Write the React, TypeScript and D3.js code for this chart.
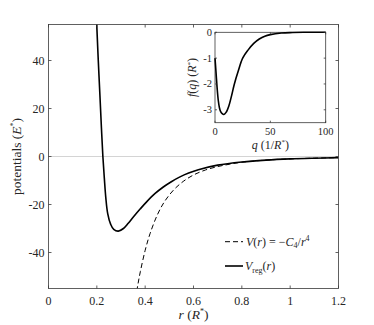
import React from 'react';
import * as d3 from 'd3';

// main panel: regularised potential and the bare -C4/r^4 tail
const rReg = [0.196, 0.2, 0.206, 0.213, 0.219, 0.225, 0.231, 0.237, 0.245, 0.257, 0.27, 0.289, 0.31, 0.33, 0.351, 0.38, 0.406, 0.44, 0.475, 0.51, 0.544, 0.58, 0.62, 0.7, 0.8, 0.9, 1.0, 1.1, 1.2];
const vReg = [65, 54, 40, 25, 12, 0, -9, -17, -23.8, -28.2, -30.4, -31.1, -30.0, -27.8, -25.2, -21.8, -18.9, -15.5, -12.7, -10.4, -8.5, -6.9, -5.5, -3.6, -2.3, -1.5, -1.0, -0.7, -0.48];
const rC4 = [0.36, 0.37, 0.38, 0.4, 0.42, 0.45, 0.48, 0.52, 0.56, 0.6, 0.65, 0.7, 0.75, 0.8, 0.9, 1.0, 1.1, 1.2];
const vC4 = [-59.5, -53.3, -48.0, -39.1, -32.2, -24.4, -18.8, -13.7, -10.2, -7.7, -5.6, -4.2, -3.2, -2.4, -1.5, -1.0, -0.68, -0.48];

// inset: f(q)
const qVals = [0, 1, 2, 3, 4, 5, 6.5, 8, 10, 12.5, 15, 17.5, 21, 25, 30, 35, 40, 45, 50, 60, 70, 80, 100];
const fVals = [-1.0, -1.6, -2.2, -2.65, -2.92, -3.06, -3.15, -3.18, -3.1, -2.85, -2.45, -2.0, -1.5, -1.0, -0.68, -0.43, -0.26, -0.15, -0.09, -0.03, -0.01, 0, 0];

const rTicks = [0, 0.2, 0.4, 0.6, 0.8, 1, 1.2];
const vTicks = [-40, -20, 0, 20, 40];
const qTicks = [0, 50, 100];
const fTicks = [-3, -2, -1, 0];

const axisCol = '#3a3a3a';
const txtCol = '#262626';
const serif = "'Liberation Serif', 'DejaVu Serif', serif";

function App() {
  const m = { left: 48.5, right: 338.5, top: 24.5, bottom: 288.5 };
  const x = d3.scaleLinear().domain([0, 1.2]).range([m.left, m.right]);
  const y = d3.scaleLinear().domain([-55, 55]).range([m.bottom, m.top]);

  const ins = { left: 215, right: 325.7, top: 32.3, bottom: 122.7 };
  const xq = d3.scaleLinear().domain([0, 100]).range([ins.left, ins.right]);
  const yf = d3.scaleLinear().domain([-3.5, 0]).range([ins.bottom, ins.top]);

  const line = d3.line<[number, number]>()
    .x(d => x(d[0]))
    .y(d => y(d[1]))
    .curve(d3.curveCatmullRom.alpha(0.5));
  const insLine = d3.line<[number, number]>()
    .x(d => xq(d[0]))
    .y(d => yf(d[1]))
    .curve(d3.curveCatmullRom.alpha(0.5));

  const regPts = rReg.map((r, i) => [r, vReg[i]] as [number, number]);
  const c4Pts = rC4.map((r, i) => [r, vC4[i]] as [number, number]);
  const fPts = qVals.map((q, i) => [q, fVals[i]] as [number, number]);

  const tk = 3;
  const tki = 2;

  return (
    <svg width={374} height={325} style={{ position: 'absolute', left: 0, top: 0, background: '#fff', fontFamily: serif }}>
      <defs>
        <clipPath id="mainclip">
          <rect x={m.left} y={m.top} width={m.right - m.left} height={m.bottom - m.top} />
        </clipPath>
      </defs>

      {/* zero line */}
      <line x1={m.left} x2={m.right} y1={y(0)} y2={y(0)} stroke="#d4d4d4" strokeWidth={1} />

      <g clipPath="url(#mainclip)" fill="none">
        <path d={line(c4Pts) || ''} stroke="#000" strokeWidth={1} strokeDasharray="5,3" />
        <path d={line(regPts) || ''} stroke="#000" strokeWidth={1.6} />
      </g>

      {/* main box + ticks */}
      <rect x={m.left} y={m.top} width={m.right - m.left} height={m.bottom - m.top} fill="none" stroke={axisCol} strokeWidth={0.8} />
      {rTicks.map(t => (
        <g key={'rx' + t}>
          <line x1={x(t)} x2={x(t)} y1={m.bottom} y2={m.bottom - tk} stroke={axisCol} strokeWidth={0.8} />
          <line x1={x(t)} x2={x(t)} y1={m.top} y2={m.top + tk} stroke={axisCol} strokeWidth={0.8} />
          <text x={x(t)} y={m.bottom + 16} textAnchor="middle" fontSize={12} fill={txtCol}>{String(t)}</text>
        </g>
      ))}
      {vTicks.map(t => (
        <g key={'vy' + t}>
          <line x1={m.left} x2={m.left + tk} y1={y(t)} y2={y(t)} stroke={axisCol} strokeWidth={0.8} />
          <line x1={m.right} x2={m.right - tk} y1={y(t)} y2={y(t)} stroke={axisCol} strokeWidth={0.8} />
          <text x={m.left - 4} y={y(t) + 4} textAnchor="end" fontSize={12} fill={txtCol}>{String(t)}</text>
        </g>
      ))}

      {/* axis labels */}
      <text x={(m.left + m.right) / 2} y={319} textAnchor="middle" fontSize={13.5} fill={txtCol}>
        <tspan fontStyle="italic">r</tspan> (<tspan fontStyle="italic">R</tspan>
        <tspan fontSize={8} dy={-5}>*</tspan><tspan dy={5}>)</tspan>
      </text>
      <text transform={`translate(21,${(m.top + m.bottom) / 2}) rotate(-90)`} textAnchor="middle" fontSize={13.5} fill={txtCol}>
        potentials (<tspan fontStyle="italic">E</tspan>
        <tspan fontSize={8} dy={-5}>*</tspan><tspan dy={5}>)</tspan>
      </text>

      {/* legend */}
      <g fontSize={12} fill={txtCol}>
        <line x1={225} x2={243} y1={241.7} y2={241.7} stroke="#000" strokeWidth={1} strokeDasharray="5,3" />
        <text x={246} y={245.5}>
          <tspan fontStyle="italic">V</tspan>(<tspan fontStyle="italic">r</tspan>) = −<tspan fontStyle="italic">C</tspan>
          <tspan fontSize={8} dy={2.5}>4</tspan><tspan dy={-2.5}>/</tspan><tspan fontStyle="italic">r</tspan>
          <tspan fontSize={8} dy={-5}>4</tspan>
        </text>
        <line x1={225} x2={243} y1={266} y2={266} stroke="#000" strokeWidth={1.6} />
        <text x={245} y={270}>
          <tspan fontStyle="italic">V</tspan><tspan fontSize={8} dy={2.5}>reg</tspan><tspan dy={-2.5}>(</tspan><tspan fontStyle="italic">r</tspan>)
        </text>
      </g>

      {/* inset */}
      <rect x={ins.left} y={ins.top} width={ins.right - ins.left} height={ins.bottom - ins.top} fill="#fff" stroke={axisCol} strokeWidth={0.8} />
      <path d={insLine(fPts) || ''} fill="none" stroke="#000" strokeWidth={1.6} />
      {qTicks.map(t => (
        <g key={'q' + t}>
          <line x1={xq(t)} x2={xq(t)} y1={ins.bottom} y2={ins.bottom - tki} stroke={axisCol} strokeWidth={0.8} />
          <line x1={xq(t)} x2={xq(t)} y1={ins.top} y2={ins.top + tki} stroke={axisCol} strokeWidth={0.8} />
          <text x={xq(t)} y={ins.bottom + 12.5} textAnchor="middle" fontSize={10.5} fill={txtCol}>{String(t)}</text>
        </g>
      ))}
      {fTicks.map(t => (
        <g key={'f' + t}>
          <line x1={ins.left} x2={ins.left + tki} y1={yf(t)} y2={yf(t)} stroke={axisCol} strokeWidth={0.8} />
          <line x1={ins.right} x2={ins.right - tki} y1={yf(t)} y2={yf(t)} stroke={axisCol} strokeWidth={0.8} />
          <text x={ins.left - 3} y={yf(t) + 3.5} textAnchor="end" fontSize={10.5} fill={txtCol}>{String(t)}</text>
        </g>
      ))}
      <text x={(ins.left + ins.right) / 2} y={148.5} textAnchor="middle" fontSize={12} fill={txtCol}>
        <tspan fontStyle="italic">q</tspan> (1/<tspan fontStyle="italic">R</tspan>
        <tspan fontSize={7} dy={-4.5}>*</tspan><tspan dy={4.5}>)</tspan>
      </text>
      <text transform={`translate(196,${(ins.top + ins.bottom) / 2}) rotate(-90)`} textAnchor="middle" fontSize={12} fill={txtCol}>
        <tspan fontStyle="italic">f</tspan>(<tspan fontStyle="italic">q</tspan>) (<tspan fontStyle="italic">R</tspan>
        <tspan fontSize={7} dy={-4.5}>*</tspan><tspan dy={4.5}>)</tspan>
      </text>
    </svg>
  );
}

export default App;
